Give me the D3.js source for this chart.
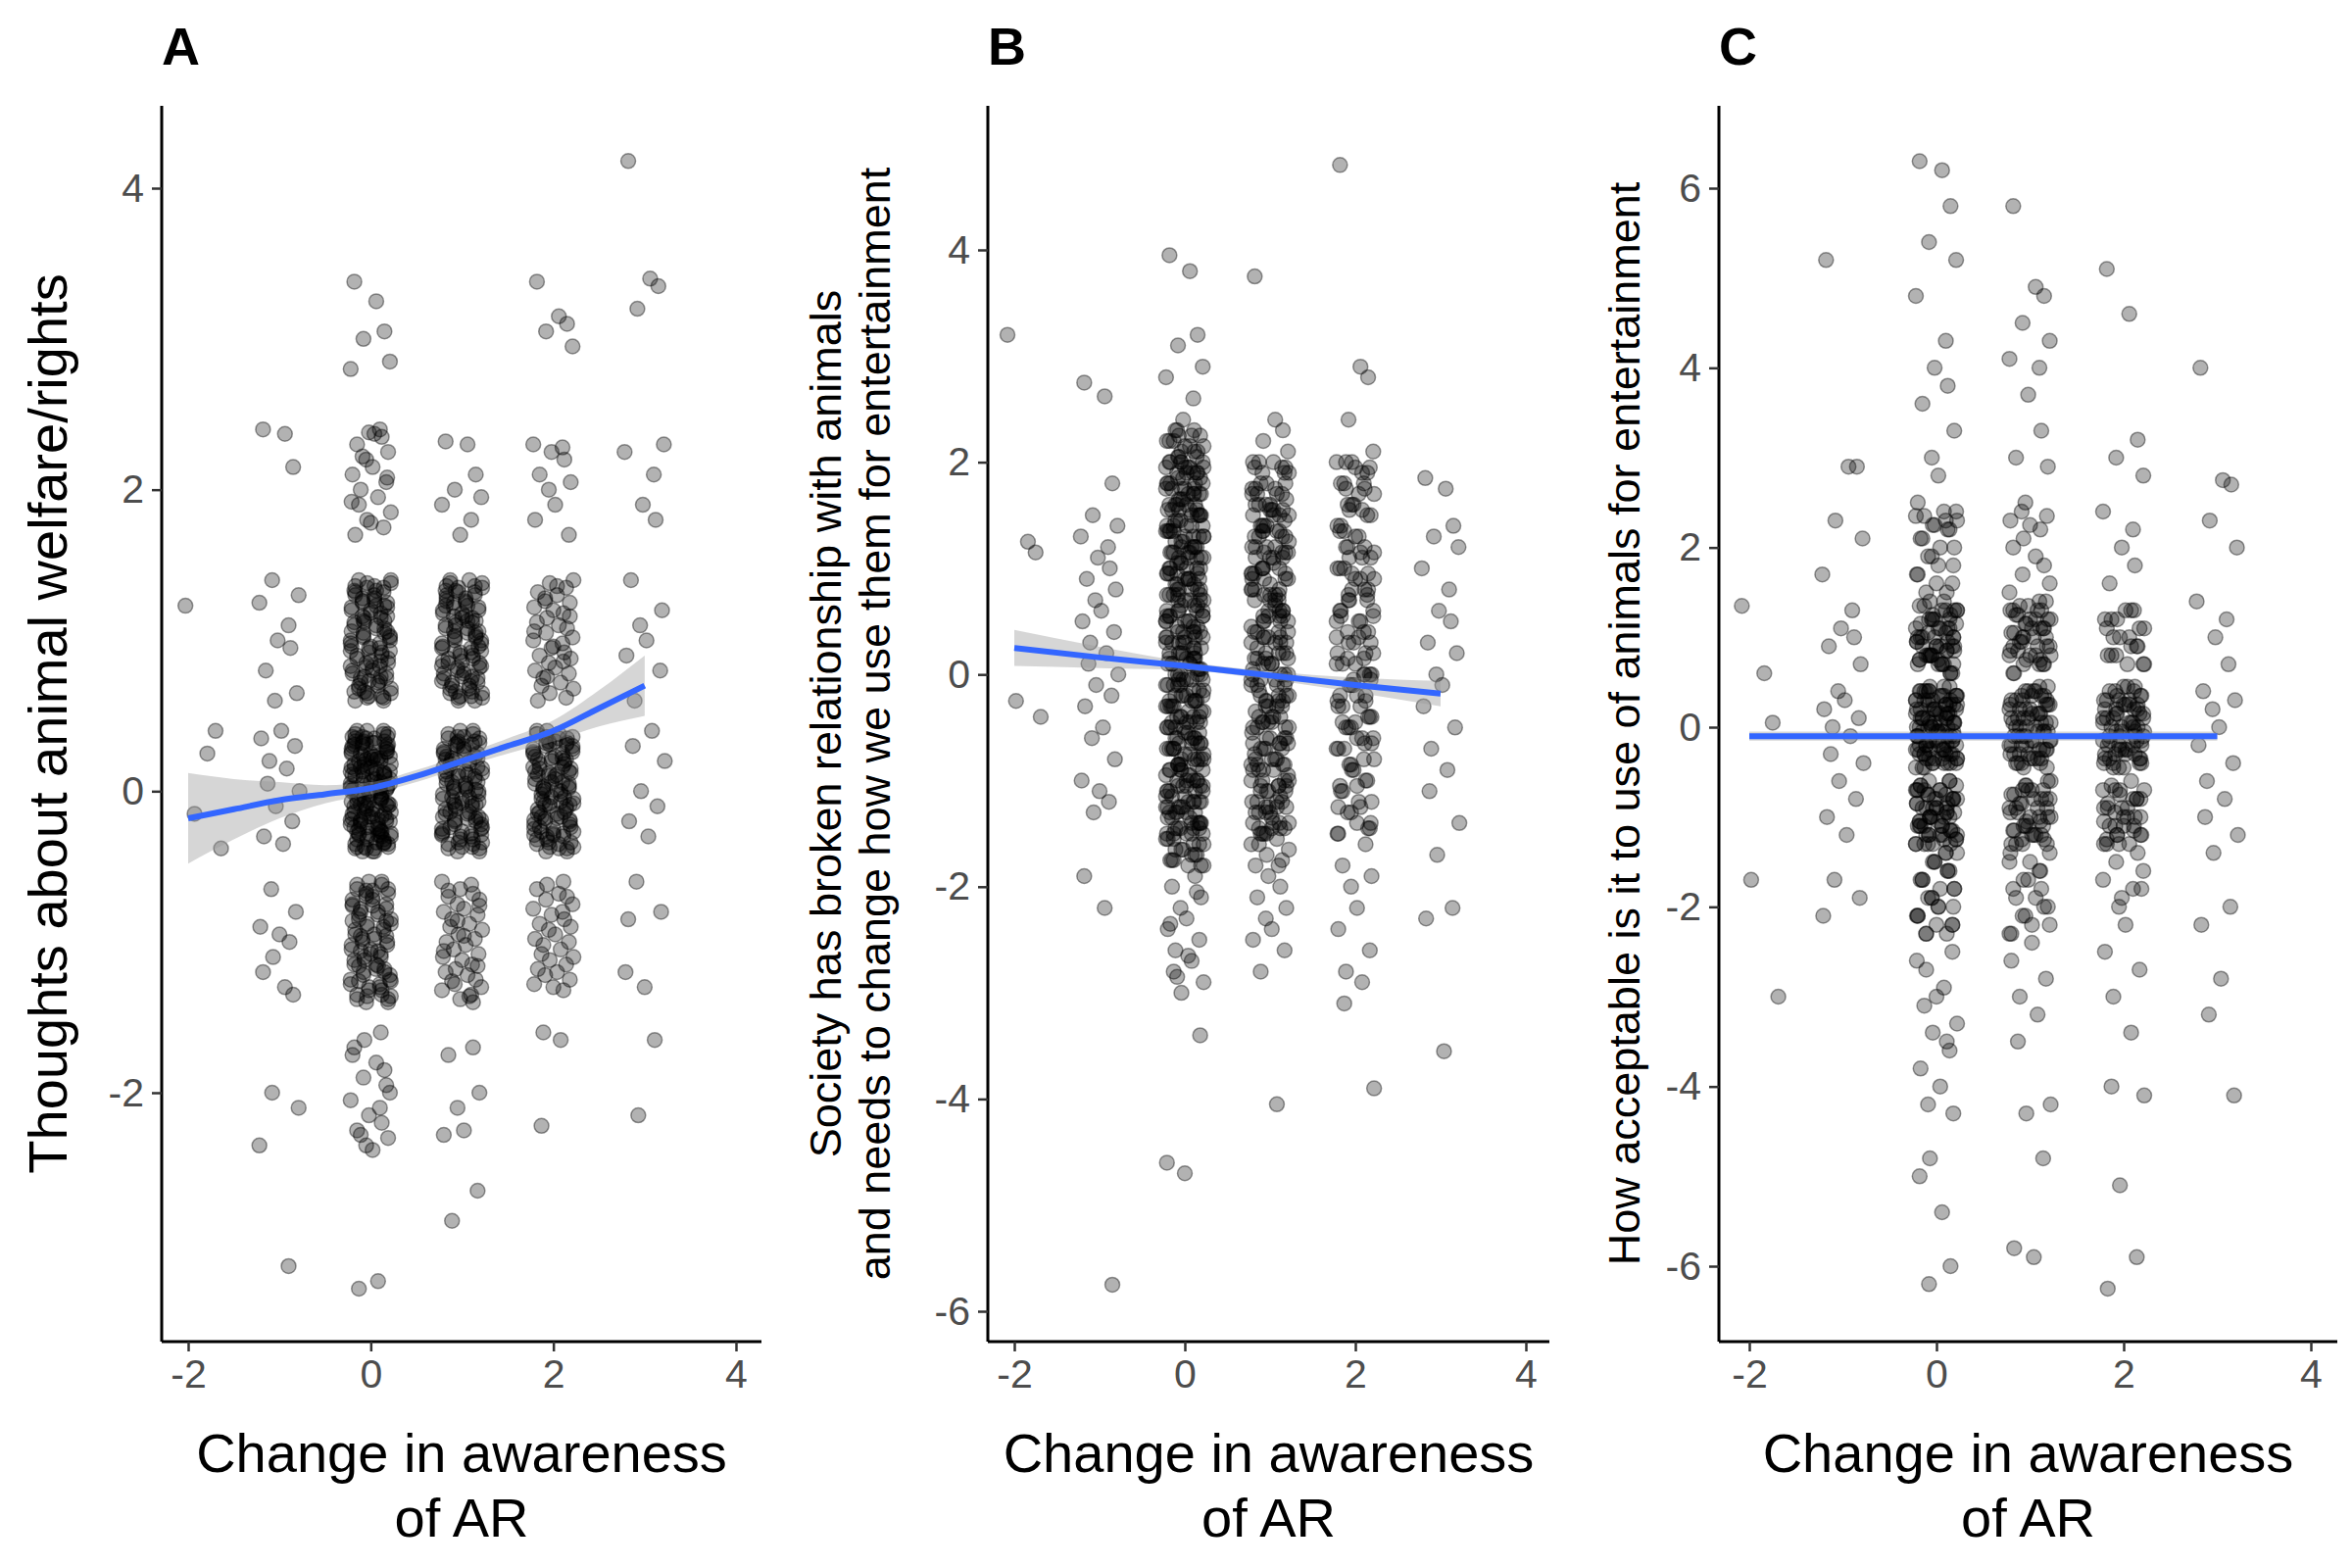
<!DOCTYPE html>
<html><head><meta charset="utf-8">
<script src="https://cdn.jsdelivr.net/npm/d3@7"></script>
<style>body{margin:0;background:#fff}svg{font-family:"Liberation Sans",Arial,sans-serif}</style>
</head><body><svg id="c" width="2400" height="1600"></svg>
<script>
// jitter offsets (as observed spread within each column)
const jitter = [-0.18,0.06,0.15,-0.08,0.21,-0.22,0.10,-0.02,0.12,-0.15,0.19,-0.05,0.02,-0.20,0.17,-0.11,0.08,-0.13,0.22,-0.04,0.14,-0.17,0.04,-0.09,0.18,-0.21,0.00,0.11,-0.07];

const hiA = "1.40 1.38 1.35 1.32 1.30 1.28 1.25 1.22 1.20 1.18 1.15 1.12 1.10 1.08 1.05 1.02 1.00 0.98 0.95 0.92 0.90 0.88 0.85 0.82 0.80 0.78 0.75 0.72 0.70 0.68 0.65 0.62 0.60 1.36 1.26 1.16 1.06 0.96 0.86 0.76 0.66 1.33 1.23 1.13 1.03 0.93 0.83 0.73 0.63";
const midA = "0.40 0.38 0.35 0.32 0.30 0.28 0.25 0.22 0.20 0.18 0.15 0.12 0.10 0.08 0.05 0.02 0.00 -0.02 -0.05 -0.08 -0.10 -0.12 -0.15 -0.18 -0.20 -0.22 -0.25 -0.28 -0.30 -0.32 -0.35 -0.38 -0.40 0.36 0.26 0.16 0.06 -0.04 -0.14 -0.24 -0.34 0.33 0.23 0.13 0.03 -0.07 -0.17 -0.27 -0.37 0.31 0.21 0.11 0.01 -0.09 -0.19 -0.29";
const loA = "-0.60 -0.62 -0.65 -0.68 -0.70 -0.72 -0.75 -0.78 -0.80 -0.82 -0.85 -0.88 -0.90 -0.92 -0.95 -0.98 -1.00 -1.02 -1.05 -1.08 -1.10 -1.12 -1.15 -1.18 -1.20 -1.22 -1.25 -1.28 -1.30 -1.32 -1.35 -1.38 -1.40 -0.66 -0.76 -0.86 -0.96 -1.06 -1.16 -1.26 -1.36";

const groupsA = [
 {x:-1.85, ys:"1.23 0.25 0.40 -0.15 -0.38"},
 {x:-1, ys:"2.40 2.37 2.15 1.40 1.30 1.25 1.10 1.00 0.95 0.80 0.65 0.60 0.40 0.35 0.30 0.20 0.15 0.05 0.00 -0.10 -0.20 -0.30 -0.35 -0.65 -0.80 -0.90 -0.95 -1.00 -1.10 -1.20 -1.30 -1.35 -2.00 -2.10 -2.35 -3.15"},
 {x:0, ys:"3.38 3.25 3.05 3.00 2.85 2.80 2.40 2.38 2.35 2.30 2.25 2.20 2.15 2.10 2.05 2.00 1.95 1.90 1.85 1.80 1.75 1.70 2.37 2.22 2.08 1.92 1.78 -1.60 -1.65 -1.70 -1.80 -1.85 -1.90 -2.00 -2.05 -2.10 -2.15 -2.20 -2.25 -2.30 -2.35 -2.38 -1.75 -1.95 -2.28 -3.25 -3.30 "+hiA+" "+midA+" "+loA+" "+midA+" "+hiA+" "+loA+" "+midA},
 {x:1, ys:"2.32 2.30 2.10 2.00 1.95 1.90 1.80 1.70 -1.70 -1.75 -2.00 -2.10 -2.25 -2.28 -2.65 -2.85 "+hiA+" "+midA+" "+loA+" "+hiA+" "+midA},
 {x:2, ys:"3.38 3.15 3.10 3.05 2.95 2.30 2.28 2.25 2.20 2.10 2.05 2.00 1.90 1.80 1.70 -1.60 -1.65 -2.22 "+hiA.slice(0,200)+" "+midA+" "+loA.slice(0,180)+" "+midA},
 {x:3, ys:"4.18 3.40 3.35 3.20 2.30 2.25 2.10 1.90 1.80 1.40 1.20 1.10 1.00 0.90 0.80 0.60 0.40 0.30 0.20 0.00 -0.10 -0.20 -0.30 -0.60 -0.80 -1.20 -1.30 -1.65 -2.15 -0.85"}
];
const fitA_x = [-2,-1.5,-1,-0.5,0,0.5,1,1.5,2,2.5,3];
const fitA_y = [-0.18,-0.12,-0.06,-0.02,0.02,0.10,0.20,0.30,0.40,0.55,0.70];
const fitA_se= [0.30,0.20,0.12,0.06,0.04,0.04,0.04,0.05,0.07,0.12,0.20];

const coreB0 = "2.30 2.25 2.20 2.15 2.10 2.05 2.00 1.95 1.90 1.85 1.80 1.75 1.70 1.65 1.60 1.55 1.50 1.45 1.40 1.35 1.30 1.25 1.20 1.15 1.10 1.05 1.00 0.95 0.90 0.85 0.80 0.75 0.70 0.65 0.60 0.55 0.50 0.45 0.40 0.35 0.30 0.25 0.20 0.15 0.10 0.05 0.00 -0.05 -0.10 -0.15 -0.20 -0.25 -0.30 -0.35 -0.40 -0.45 -0.50 -0.55 -0.60 -0.65 -0.70 -0.75 -0.80 -0.85 -0.90 -0.95 -1.00 -1.05 -1.10 -1.15 -1.20 -1.25 -1.30 -1.35 -1.40 -1.45 -1.50 -1.55 -1.60 -1.65 -1.70 -1.75 -1.80";
const coreB1 = "2.00 1.90 1.80 1.70 1.60 1.50 1.40 1.30 1.20 1.10 1.00 0.90 0.80 0.70 0.60 0.50 0.40 0.30 0.20 0.10 0.00 -0.10 -0.20 -0.30 -0.40 -0.50 -0.60 -0.70 -0.80 -0.90 -1.00 -1.10 -1.20 -1.30 -1.40 -1.50 1.95 1.75 1.55 1.35 1.15 0.95 0.75 0.55 0.35 0.15 -0.05 -0.25 -0.45 -0.65 -0.85 -1.05 -1.25 -1.45";
const groupsB = [
 {x:-1.9, ys:"3.20 1.25 1.15 -0.25 -0.40"},
 {x:-1, ys:"2.75 2.62 1.80 1.50 1.40 1.30 1.20 1.10 1.00 0.90 0.80 0.70 0.60 0.50 0.40 0.30 0.20 0.10 0.00 -0.10 -0.20 -0.30 -0.50 -0.60 -0.80 -1.00 -1.10 -1.20 -1.30 -1.90 -2.20 -5.75"},
 {x:0, ys:"3.95 3.80 3.20 3.10 2.90 2.80 2.60 2.40 -1.90 -2.00 -2.10 -2.20 -2.30 -2.40 -2.50 -2.60 -2.70 -2.80 -2.90 -3.00 -2.05 -2.35 -2.65 -2.85 -3.40 -4.60 -4.70 "+coreB0+" "+coreB0+" "+coreB1+" "+coreB0+" "+coreB1},
 {x:1, ys:"3.75 2.40 2.30 2.20 2.10 -1.60 -1.80 -1.90 -2.00 -2.10 -2.20 -2.30 -2.40 -2.50 -2.60 -2.80 -4.05 "+coreB1+" "+coreB1+" "+coreB0.slice(60)+" "+coreB1},
 {x:2, ys:"4.80 2.90 2.80 2.40 2.10 2.00 1.80 1.60 -1.60 -1.80 -1.90 -2.00 -2.20 -2.40 -2.60 -2.80 -2.90 -3.10 -3.90 "+coreB1+" "+coreB1.slice(0,150)+" "+coreB1.slice(40)},
 {x:3, ys:"1.85 1.75 1.40 1.30 1.20 1.00 0.80 0.60 0.50 0.30 0.20 0.00 -0.10 -0.30 -0.50 -0.70 -0.90 -1.10 -1.40 -1.70 -2.20 -2.30 -3.55"}
];
const fitB_x = [-2,-1,0,1,2,3];
const fitB_y = [0.25,0.16,0.08,-0.01,-0.10,-0.18];
const fitB_se= [0.17,0.10,0.04,0.04,0.07,0.12];

const coreC = "2.40 2.35 2.30 2.25 2.20 2.10 2.00 1.90 1.80 1.70 1.60 1.50 1.40 1.35 1.30 1.25 1.20 1.15 1.10 1.05 1.00 0.95 0.90 0.85 0.80 0.75 0.70 0.60 0.40 0.35 0.30 0.25 0.20 0.15 0.10 0.05 0.00 -0.05 -0.10 -0.15 -0.20 -0.25 -0.30 -0.35 -0.40 -0.60 -0.65 -0.70 -0.75 -0.80 -0.85 -0.90 -0.95 -1.00 -1.05 -1.10 -1.15 -1.20 -1.25 -1.30 -1.40 -1.50 -1.60 -1.70 -1.80 -1.90 -2.00 -2.10 -2.20 -2.30";
const midC = "0.45 0.40 0.35 0.30 0.25 0.20 0.15 0.10 0.05 0.00 -0.05 -0.10 -0.15 -0.20 -0.25 -0.30 -0.35 -0.40 -0.45 1.30 1.20 1.10 1.00 0.90 0.80 0.70 -0.70 -0.80 -0.90 -1.00 -1.10 -1.20 -1.30";
const groupsC = [
 {x:-1.9, ys:"1.35 0.60 0.05 -1.70 -3.00"},
 {x:-1, ys:"5.20 2.90 2.90 2.30 2.10 1.70 1.30 1.10 1.00 0.90 0.70 0.40 0.30 0.20 0.10 0.00 -0.10 -0.30 -0.40 -0.60 -0.80 -1.00 -1.20 -1.70 -1.90 -2.10"},
 {x:0, ys:"6.30 6.20 5.80 5.40 5.20 4.80 4.30 4.00 3.80 3.60 3.30 3.00 2.80 2.50 -2.50 -2.70 -2.90 -3.10 -3.30 -3.40 -3.60 -3.80 -4.00 -4.20 -4.30 -2.60 -3.00 -3.50 -4.80 -5.00 -5.40 -6.00 -6.20 "+coreC+" "+midC+" "+midC+" "+coreC.slice(100)+" "+coreC+" "+midC},
 {x:1, ys:"5.80 4.90 4.80 4.50 4.30 4.10 4.00 3.70 3.30 3.00 2.90 2.50 -2.40 -2.60 -2.80 -3.00 -3.20 -3.50 -4.20 -4.30 -4.80 -5.80 -5.90 "+coreC+" "+midC+" "+midC+" "+coreC.slice(60)},
 {x:2, ys:"5.10 4.60 3.20 3.00 2.80 2.40 2.20 2.00 1.80 1.60 -1.80 -2.00 -2.20 -2.50 -2.70 -3.00 -3.40 -4.00 -4.10 -5.10 -5.90 -6.25 "+midC+" "+midC+" "+coreC.slice(150,360)+" "+midC},
 {x:3, ys:"4.00 2.75 2.70 2.30 2.00 1.40 1.20 1.00 0.70 0.40 0.30 0.20 0.00 -0.20 -0.40 -0.60 -0.80 -1.00 -1.20 -1.40 -2.00 -2.20 -2.80 -3.20 -4.10"}
];
const fitC_x = [-2,3];
const fitC_y = [-0.10,-0.10];
const fitC_se= [0.05,0.05];

const xTicks = [-2,0,2,4];
const panels = [
 {label:"A", groups:groupsA, fx:fitA_x, fy:fitA_y, fs:fitA_se, left:165, right:777, x0:192, x4:751, top:108,
  yd:[-2,4], yr:[1115,192], yticks:[-2,0,2,4], ytitle:["Thoughts about animal welfare/rights"], ysize:56, ytx:48},
 {label:"B", groups:groupsB, fx:fitB_x, fy:fitB_y, fs:fitB_se, left:1008, right:1581, x0:1035, x4:1557, top:108,
  yd:[-6,4], yr:[1338,255], yticks:[-6,-4,-2,0,2,4], ytitle:["Society has broken relationship with animals","and needs to change how we use them for entertainment"], ysize:45, ytx:862},
 {label:"C", groups:groupsC, fx:fitC_x, fy:fitC_y, fs:fitC_se, left:1754, right:2385, x0:1785, x4:2358, top:108,
  yd:[-6,6], yr:[1292,192], yticks:[-6,-4,-2,0,2,4,6], ytitle:["How acceptable is it to use of animals for entertainment"], ysize:45, ytx:1657}
];
const baseY = 1369;
const svg = d3.select("#c");

panels.forEach(p=>{
  const x = d3.scaleLinear().domain([-2,4]).range([p.x0,p.x4]);
  const y = d3.scaleLinear().domain(p.yd).range(p.yr);
  const g = svg.append("g");
  p.groups.forEach(gr=>{
    const ys = gr.ys.trim().split(/\s+/).map(Number).filter(v=>!isNaN(v));
    g.selectAll(null).data(ys).enter().append("circle")
      .attr("cx",(d,i)=>x(gr.x+jitter[i%jitter.length]))
      .attr("cy",d=>y(d)).attr("r",7.5)
      .attr("fill","rgba(0,0,0,0.3)").attr("stroke","rgba(0,0,0,0.4)").attr("stroke-width",1.5);
  });
  const fit = p.fx.map((v,i)=>({x:v,y:p.fy[i],s:p.fs[i]}));
  g.append("path").datum(fit).attr("fill","#999").attr("opacity",0.4)
    .attr("d",d3.area().x(d=>x(d.x)).y0(d=>y(d.y-d.s)).y1(d=>y(d.y+d.s)).curve(d3.curveMonotoneX));
  g.append("path").datum(fit).attr("fill","none").attr("stroke","#3366FF").attr("stroke-width",6)
    .attr("d",d3.line().x(d=>x(d.x)).y(d=>y(d.y)).curve(d3.curveMonotoneX));
  const xa = g.append("g").attr("transform",`translate(0,${baseY})`)
    .call(d3.axisBottom(x).tickValues(xTicks).tickSize(10).tickPadding(8).tickFormat(d3.format("d")));
  xa.select(".domain").attr("d",`M${p.left},0H${p.right}`);
  const ya = g.append("g").attr("transform",`translate(${p.left},0)`)
    .call(d3.axisLeft(y).tickValues(p.yticks).tickSize(10).tickPadding(8).tickFormat(d3.format("d")));
  ya.select(".domain").attr("d",`M0,${p.top}V${baseY}`);
  [xa,ya].forEach(a=>{
    a.selectAll(".domain").attr("stroke","#000").attr("stroke-width",3);
    a.selectAll(".tick line").attr("stroke","#333").attr("stroke-width",2.5);
    a.selectAll(".tick text").attr("fill","#4d4d4d").style("font-size","41px").text(d=>String(d));
  });
  const cx = (p.left+p.right)/2;
  g.append("text").attr("x",cx).attr("y",1502).attr("text-anchor","middle").style("font-size","56px").text("Change in awareness");
  g.append("text").attr("x",cx).attr("y",1568).attr("text-anchor","middle").style("font-size","56px").text("of AR");
  const cy = (p.top+baseY)/2;
  const yt = g.append("text").attr("transform",`translate(${p.ytx},${cy}) rotate(-90)`).attr("text-anchor","middle").style("font-size",p.ysize+"px");
  p.ytitle.forEach((t,i)=>yt.append("tspan").attr("x",0).attr("dy",i===0?(p.ytitle.length>1?-p.ysize*0.1:p.ysize*0.35):p.ysize*1.12).text(t));
  g.append("text").attr("x",p.left).attr("y",66).style("font-size","54px").style("font-weight","bold").text(p.label);
});
</script></body></html>
